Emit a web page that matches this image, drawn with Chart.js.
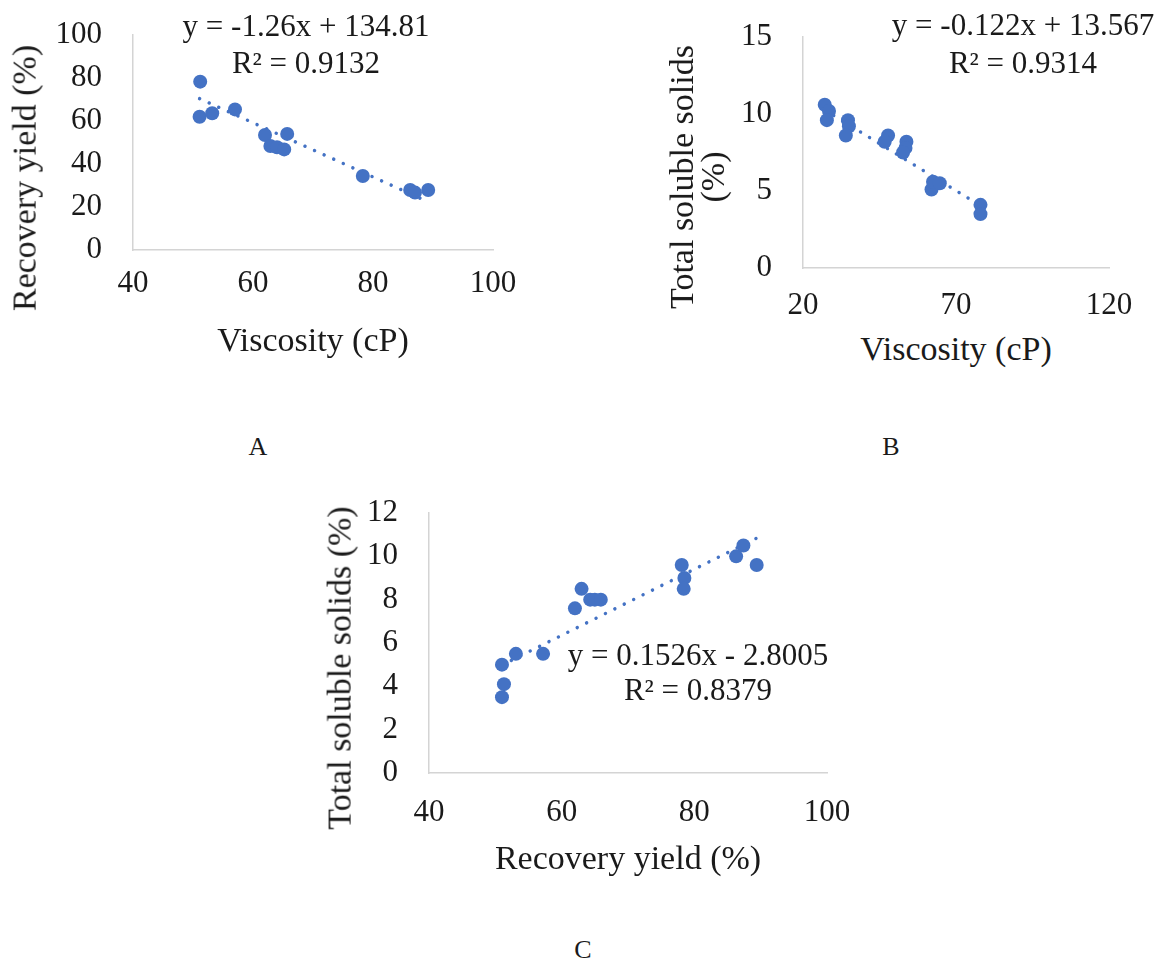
<!DOCTYPE html>
<html><head><meta charset="utf-8">
<script src="https://cdn.jsdelivr.net/npm/chart.js@4.4.0/dist/chart.umd.min.js"></script>
<style>
html,body{margin:0;padding:0;background:#fff;}
body{width:1160px;height:961px;position:relative;overflow:hidden;font-family:'Liberation Serif','Times New Roman',serif;color:#1a1a1a;}
canvas{position:absolute;}
.t{position:absolute;white-space:pre;text-align:center;transform:translate(-50%,-50%);line-height:1.2;}
.r{transform:translate(-50%,-50%) rotate(-90deg);}
</style></head><body>
<canvas id="cA" width="540" height="320" style="left:0;top:0"></canvas>
<canvas id="cB" width="540" height="320" style="left:620px;top:0"></canvas>
<canvas id="cC" width="560" height="360" style="left:300px;top:480px"></canvas>

<div class="t r" style="left:25px;top:178px;font-size:34px">Recovery yield (%)</div>
<div class="t" style="left:313px;top:340px;font-size:34px">Viscosity (cP)</div>
<div class="t" style="left:306px;top:44px;font-size:31px;line-height:37px">y = -1.26x + 134.81
R² = 0.9132</div>

<div class="t r" style="left:697px;top:177px;font-size:34px;line-height:31px">Total soluble solids
(%)</div>
<div class="t" style="left:956px;top:349px;font-size:34px">Viscosity (cP)</div>
<div class="t" style="left:1023px;top:44px;font-size:31px;line-height:38px">y = -0.122x + 13.567
R² = 0.9314</div>

<div class="t r" style="left:340px;top:668px;font-size:34px">Total soluble solids (%)</div>
<div class="t" style="left:628px;top:858px;font-size:34px">Recovery yield (%)</div>
<div class="t" style="left:698px;top:672px;font-size:31px;line-height:35px">y = 0.1526x - 2.8005
R² = 0.8379</div>

<div class="t" style="left:258px;top:447px;font-size:26px">A</div>
<div class="t" style="left:891px;top:447px;font-size:26px">B</div>
<div class="t" style="left:583px;top:950px;font-size:26px">C</div>

<script>
// ---- Data ----
// Panel A: viscosity (cP) vs recovery yield (%)
const viscosityA = [51.2, 51.1, 53.2, 57.0, 62.0, 65.7, 62.9, 64.0, 65.2, 78.3, 86.2, 87.0, 89.2];
const recoveryA  = [78.3, 62.0, 63.6, 65.4, 53.5, 54.0, 48.4, 47.8, 46.8, 34.4, 27.9, 26.7, 27.9];
const trendAx = [51.1, 89.2];
const trendAy = [70.4, 22.4];
const xTicksA = [40, 60, 80, 100];
const yTicksA = [0, 20, 40, 60, 80, 100];

// Panel B: viscosity (cP) vs total soluble solids (%)
const viscosityB = [27.1, 28.5, 27.8, 34.7, 35.0, 34.0, 47.8, 46.7, 53.8, 53.5, 52.7, 62.0, 62.5, 64.7, 78.0, 78.0];
const tssB       = [10.6, 10.2, 9.6, 9.6, 9.2, 8.6, 8.6, 8.2, 8.2, 7.8, 7.5, 5.1, 5.6, 5.5, 4.1, 3.5];
const trendBx = [27.1, 78.0];
const trendBy = [10.26, 4.05];
const xTicksB = [20, 70, 120];
const yTicksB = [0, 5, 10, 15];

// Panel C: recovery yield (%) vs total soluble solids (%)
const recoveryC = [51.0, 51.3, 51.0, 53.1, 57.2, 62.0, 63.0, 64.3, 65.0, 65.9, 78.1, 78.5, 78.4, 86.3, 87.4, 89.4];
const tssC      = [5.0, 4.1, 3.5, 5.5, 5.5, 7.6, 8.5, 8.0, 8.0, 8.0, 9.6, 9.0, 8.5, 10.0, 10.5, 9.6];
const trendCx = [51.0, 89.4];
const trendCy = [4.98, 10.84];
const xTicksC = [40, 60, 80, 100];
const yTicksC = [0, 2, 4, 6, 8, 10, 12];

// ---- Styling ----
const BLUE = '#4472C4';
const FONT = "'Liberation Serif', 'Times New Roman', serif";
const zip = (xs, ys) => xs.map((x, i) => ({x, y: ys[i]}));

function makeChart(id, xs, ys, tx, ty, xt, yt, lay) {
  const axisCommon = {
    grid: {display: false, drawTicks: false},
    border: {display: true, color: '#d4d4d4', width: 1.5},
  };
  new Chart(document.getElementById(id), {
    type: 'scatter',
    data: {
      datasets: [
        {data: zip(xs, ys), backgroundColor: BLUE, borderWidth: 0, pointRadius: 7, pointHoverRadius: 7},
        {data: zip(tx, ty), showLine: true, pointRadius: 0, borderColor: BLUE, borderWidth: 3.5,
         borderDash: [0.01, 10.5], borderCapStyle: 'round', fill: false}
      ]
    },
    options: {
      responsive: false, animation: false,
      layout: {padding: {left: 0, top: lay.top, right: lay.right, bottom: 0}},
      plugins: {legend: {display: false}, tooltip: {enabled: false}},
      scales: {
        x: Object.assign({}, axisCommon, {
          type: 'linear', min: xt[0], max: xt[xt.length - 1],
          ticks: {stepSize: xt[1] - xt[0], autoSkip: false, padding: lay.xpad, color: '#1a1a1a',
                  font: {family: FONT, size: 31}, maxRotation: 0},
          afterFit: s => { s.height = lay.xh; s.paddingLeft = 0; s.paddingRight = 0; }
        }),
        y: Object.assign({}, axisCommon, {
          type: 'linear', min: yt[0], max: yt[yt.length - 1],
          ticks: {stepSize: yt[1] - yt[0], autoSkip: false, padding: 31, color: '#1a1a1a',
                  font: {family: FONT, size: 31}},
          afterFit: s => { s.width = lay.yw; s.paddingTop = 0; s.paddingBottom = 0; }
        })
      }
    }
  });
}

makeChart('cA', viscosityA, recoveryA, trendAx, trendAy, xTicksA, yTicksA,
  {top: 35, right: 47, xh: 70, yw: 133, xpad: 15});
makeChart('cB', viscosityB, tssB, trendBx, trendBy, xTicksB, yTicksB,
  {top: 37, right: 51, xh: 52, yw: 183, xpad: 19});
makeChart('cC', recoveryC, tssC, trendCx, trendCy, xTicksC, yTicksC,
  {top: 33, right: 33, xh: 67, yw: 129, xpad: 21});
</script>
</body></html>
